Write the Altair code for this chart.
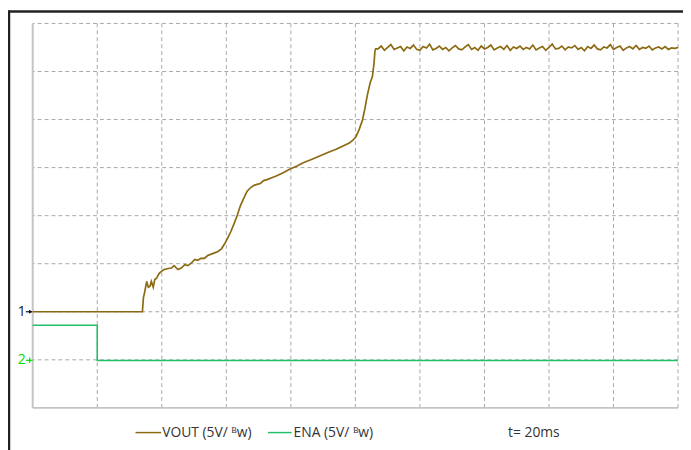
import altair as alt
import pandas as pd

# ---- data (in screen divisions: time 0..10, amplitude 0..8) ----
VOUT_T = [0.0, 1.70, 1.715, 1.738, 1.766, 1.792, 1.818, 1.838, 1.868, 1.891, 1.919, 1.960,
          1.995, 2.037, 2.098, 2.149, 2.190, 2.251, 2.302, 2.358, 2.404, 2.455, 2.511,
          2.557, 2.603, 2.660, 2.711, 2.787, 2.864, 2.925, 2.976, 3.017, 3.067, 3.119,
          3.170, 3.216, 3.273, 3.323, 3.374, 3.430, 3.476, 3.527, 3.579, 3.629, 3.706,
          3.782, 3.890, 3.986, 4.089, 4.191, 4.319, 4.446, 4.564, 4.701, 4.809, 4.905,
          4.962, 5.008, 5.058, 5.110, 5.145, 5.187, 5.230, 5.263, 5.288, 5.303, 5.314]
VOUT_V = [2.0, 2.0, 2.29, 2.43, 2.63, 2.51, 2.53, 2.63, 2.51, 2.67, 2.70, 2.80,
          2.84, 2.88, 2.90, 2.91, 2.96, 2.88, 2.91, 2.98, 2.96, 3.01, 3.09,
          3.07, 3.11, 3.11, 3.17, 3.21, 3.25, 3.31, 3.42, 3.52, 3.66, 3.83,
          4.01, 4.20, 4.37, 4.51, 4.58, 4.63, 4.65, 4.67, 4.73, 4.75, 4.79,
          4.83, 4.90, 4.97, 5.03, 5.10, 5.17, 5.24, 5.31, 5.38, 5.45, 5.51,
          5.57, 5.64, 5.79, 5.99, 6.21, 6.52, 6.77, 6.89, 7.16, 7.43, 7.47]
PLATEAU_T = [5.35, 5.40, 5.45, 5.50, 5.55, 5.60, 5.65, 5.70, 5.75, 5.80,
             5.85, 5.90, 5.95, 6.00, 6.05, 6.10, 6.15, 6.20, 6.25, 6.30,
             6.35, 6.40, 6.45, 6.50, 6.55, 6.60, 6.65, 6.70, 6.75, 6.80,
             6.85, 6.90, 6.95, 7.00, 7.05, 7.10, 7.15, 7.20, 7.25, 7.30,
             7.35, 7.40, 7.45, 7.50, 7.55, 7.60, 7.65, 7.70, 7.75, 7.80,
             7.85, 7.90, 7.95, 8.00, 8.05, 8.10, 8.15, 8.20, 8.25, 8.30,
             8.35, 8.40, 8.45, 8.50, 8.55, 8.60, 8.65, 8.70, 8.75, 8.80,
             8.85, 8.90, 8.95, 9.00, 9.05, 9.10, 9.15, 9.20, 9.25, 9.30,
             9.35, 9.40, 9.45, 9.50, 9.55, 9.60, 9.65, 9.70, 9.75, 9.80,
             9.85, 9.90, 9.95, 10.0]
PLATEAU_V = [7.47, 7.53, 7.44, 7.50, 7.56, 7.46, 7.49, 7.52, 7.43, 7.51,
             7.48, 7.55, 7.46, 7.44, 7.52, 7.49, 7.57, 7.45, 7.48, 7.53,
             7.46, 7.50, 7.43, 7.49, 7.54, 7.47, 7.45, 7.51, 7.56, 7.46,
             7.50, 7.44, 7.53, 7.47, 7.50, 7.55, 7.45, 7.49, 7.52, 7.46,
             7.54, 7.44, 7.51, 7.48, 7.53, 7.46, 7.50, 7.47, 7.55, 7.45,
             7.49, 7.52, 7.44, 7.50, 7.57, 7.47, 7.48, 7.53, 7.45, 7.51,
             7.49, 7.54, 7.46, 7.50, 7.43, 7.52, 7.48, 7.55, 7.47, 7.45,
             7.51, 7.49, 7.56, 7.46, 7.50, 7.53, 7.44, 7.49, 7.52, 7.47,
             7.54, 7.46, 7.50, 7.48, 7.53, 7.45, 7.49, 7.51, 7.47, 7.52,
             7.46, 7.49, 7.48, 7.50]
ENA_T = [0.0, 1.0, 1.0, 10.0]
ENA_V = [1.72, 1.72, 0.985, 0.985]

GRID_X = [1, 2, 3, 4, 5, 6, 7, 8, 9, 10]
GRID_Y = [1, 2, 3, 4, 5, 6, 7, 8]
CH1_LEVEL = 2.0
CH2_LEVEL = 0.99

BROWN = "#8C6A12"
GREEN = "#22C068"
FONT = "Open Sans"

vt = VOUT_T + PLATEAU_T
vv = VOUT_V + PLATEAU_V
vout = pd.DataFrame({"t": vt, "v": vv, "i": list(range(len(vt)))})
ena = pd.DataFrame({"t": ENA_T, "v": ENA_V, "i": list(range(len(ENA_T)))})

xs = alt.Scale(domain=[0, 10], nice=False, zero=False)
ys = alt.Scale(domain=[0, 8], nice=False, zero=False)

gx = alt.Chart(pd.DataFrame({"t": GRID_X})).mark_rule(
    color="#a8a8a8", strokeDash=[4, 3], strokeWidth=1
).encode(x=alt.X("t:Q", scale=xs, axis=None))
gy = alt.Chart(pd.DataFrame({"v": GRID_Y})).mark_rule(
    color="#a8a8a8", strokeDash=[4, 3], strokeWidth=1
).encode(y=alt.Y("v:Q", scale=ys, axis=None))

axl = alt.Chart(pd.DataFrame({"t": [0]})).mark_rule(color="#c4c4c4", strokeWidth=2).encode(
    x=alt.X("t:Q", scale=xs, axis=None))
axb = alt.Chart(pd.DataFrame({"v": [0]})).mark_rule(color="#c4c4c4", strokeWidth=2).encode(
    y=alt.Y("v:Q", scale=ys, axis=None))

ena_line = alt.Chart(ena).mark_line(color=GREEN, strokeWidth=1.6).encode(
    x=alt.X("t:Q", scale=xs, axis=None), y=alt.Y("v:Q", scale=ys, axis=None), order="i:Q")
vout_line = alt.Chart(vout).mark_line(color=BROWN, strokeWidth=1.7).encode(
    x=alt.X("t:Q", scale=xs, axis=None), y=alt.Y("v:Q", scale=ys, axis=None), order="i:Q")

# channel markers
m1 = pd.DataFrame({"v": [CH1_LEVEL], "label": ["1"]})
m2 = pd.DataFrame({"v": [CH2_LEVEL], "label": ["2"]})
m1_text = alt.Chart(m1).mark_text(font=FONT, fontSize=14, color="#111", align="right",
                                  baseline="middle", clip=False).encode(
    x=alt.value(-7), y=alt.Y("v:Q", scale=ys, axis=None), text="label:N")
m1_arrow = alt.Chart(m1).mark_rule(color="#111", strokeWidth=1.2, clip=False).encode(
    x=alt.value(-7), x2=alt.value(-1), y=alt.Y("v:Q", scale=ys, axis=None))
m1_head = alt.Chart(m1).mark_point(shape="triangle-right", filled=True, color="#111",
                                   size=18, opacity=1, clip=False).encode(
    x=alt.value(-2), y=alt.Y("v:Q", scale=ys, axis=None))
m2_text = alt.Chart(m2).mark_text(font=FONT, fontSize=14, color="#00E000", align="right",
                                  baseline="middle", clip=False).encode(
    x=alt.value(-7), y=alt.Y("v:Q", scale=ys, axis=None), text="label:N")
m2_arrow = alt.Chart(m2).mark_rule(color="#00E000", strokeWidth=1.2, clip=False).encode(
    x=alt.value(-7), x2=alt.value(0), y=alt.Y("v:Q", scale=ys, axis=None))
m2_tick = alt.Chart(m2).mark_point(shape="stroke", color="#00E000", size=30, angle=90,
                                   opacity=1, strokeWidth=1.2, clip=False).encode(
    x=alt.value(-3), y=alt.Y("v:Q", scale=ys, axis=None))

# bottom legend
leg = pd.DataFrame({"a": [0]})
leg_vout_line = alt.Chart(leg).mark_rule(color=BROWN, strokeWidth=1.5).encode(
    x=alt.value(104), x2=alt.value(130), y=alt.value(414))
leg_vout_text = alt.Chart(leg).mark_text(font=FONT, fontSize=14, color="#333", align="left",
                                         baseline="middle").encode(
    x=alt.value(131), y=alt.value(414), text=alt.value("VOUT (5V/ ᴮw)"))
leg_ena_line = alt.Chart(leg).mark_rule(color=GREEN, strokeWidth=1.5).encode(
    x=alt.value(238), x2=alt.value(262), y=alt.value(414))
leg_ena_text = alt.Chart(leg).mark_text(font=FONT, fontSize=14, color="#333", align="left",
                                        baseline="middle").encode(
    x=alt.value(264), y=alt.value(414), text=alt.value("ENA (5V/ ᴮw)"))
leg_t_text = alt.Chart(leg).mark_text(font=FONT, fontSize=14, color="#333", align="left",
                                      baseline="middle").encode(
    x=alt.value(481), y=alt.value(414), text=alt.value("t= 20ms"))

# outer frame
frame_left = alt.Chart(leg).mark_rule(color="#222", strokeWidth=2.5).encode(
    x=alt.value(-24), y=alt.value(-13), y2=alt.value(450))
frame_top = alt.Chart(leg).mark_rule(color="#222", strokeWidth=2.5).encode(
    x=alt.value(-25), x2=alt.value(670), y=alt.value(-12))

chart = alt.layer(
    gx, gy, axl, axb, ena_line, vout_line,
    m1_arrow, m1_head, m1_text, m2_arrow, m2_tick, m2_text,
    leg_vout_line, leg_vout_text, leg_ena_line, leg_ena_text, leg_t_text,
    frame_left, frame_top,
).properties(
    width=653, height=389,
    autosize=alt.AutoSizeParams(type="none"),
    padding={"left": 25, "top": 13, "right": 5, "bottom": 40},
    background="white",
).configure_view(stroke=None)

chart.save("out.html", embed_options={"renderer": "svg", "actions": False})
